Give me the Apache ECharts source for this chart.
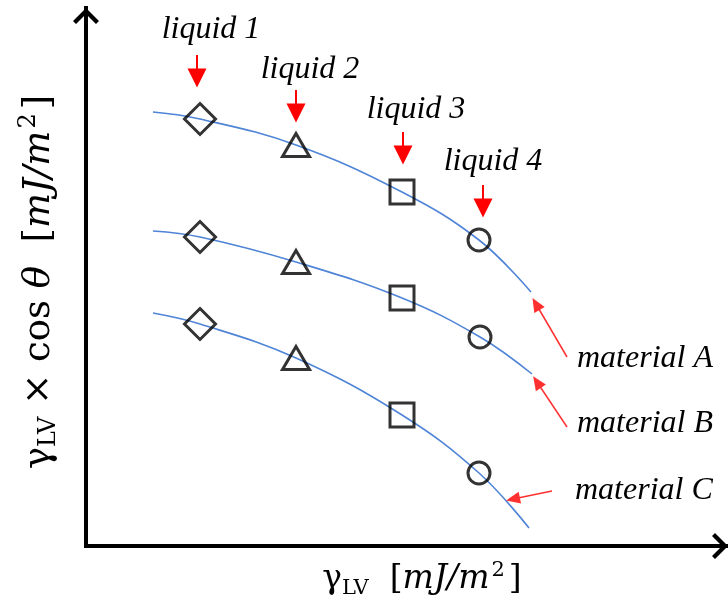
<!DOCTYPE html>
<html>
<head>
<meta charset="utf-8">
<script src="https://cdn.jsdelivr.net/npm/echarts@6/dist/echarts.min.js"></script>
<style>
  html, body { margin: 0; padding: 0; background: #fff; }
  #chart { width: 728px; height: 604px; }
</style>
</head>
<body>
<div id="chart"></div>
<script>
// schematic values (arbitrary units, origin at the axis corner)
// each curve: start, liquid 1..4, end
const curveA = [[67, 434], [114, 427], [210, 401], [316, 354], [393, 306], [445, 254]];
const curveB = [[67, 315], [114, 309], [210, 284], [316, 248], [394, 209], [446, 172]];
const curveC = [[67, 233], [114, 222], [210, 188], [316, 131], [393, 73], [443, 18]];
const materials = ['material A', 'material B', 'material C'];
const liquids = ['liquid 1', 'liquid 2', 'liquid 3', 'liquid 4'];
const liquidSymbols = ['diamond', 'triangle', 'rect', 'circle'];
const liquidSizes = [[31, 31], [27, 23], [24, 24], [22, 22]];

// red arrows: [from, to]
const liquidArrows = [
  [[111, 491], [111, 468]],
  [[210, 456], [210, 433]],
  [[317, 414], [317, 391]],
  [[397, 361], [397, 338]]
];
const materialArrows = [
  [[481, 189], [450, 242]],
  [[481, 119], [451, 164]],
  [[466, 55], [427, 47]]
];

const chart = echarts.init(document.getElementById('chart'));

const mathFont = "'DejaVu Serif', 'Liberation Serif', serif";
function makeRich(size) {
  const sub = Math.round(size * 0.64);
  const lh = Math.round(size * 1.18);
  return {
    g: { fontFamily: mathFont, fontSize: size, lineHeight: lh, color: '#000' },
    s: { fontFamily: mathFont, fontSize: sub, lineHeight: Math.round(size * 0.88), verticalAlign: 'bottom', color: '#000' },
    t: { fontFamily: mathFont, fontSize: size, lineHeight: lh, color: '#000' },
    i: { fontFamily: mathFont, fontSize: size, lineHeight: lh, fontStyle: 'italic', color: '#000' },
    p: { fontFamily: mathFont, fontSize: sub, lineHeight: Math.round(size * 0.88), verticalAlign: 'top', color: '#000', padding: [0, 4, 0, 2] }
  };
}

// open chevron for the axis ends (drawn pointing up)
const chevron = 'path://M0,13 L13,0 L26,13 L23,16 L13,6 L3,16 Z';

const axisLine = {
  show: true,
  symbol: ['none', chevron],
  symbolSize: [26, 16],
  symbolOffset: [0, -8],
  lineStyle: { color: '#000', width: 4, cap: 'square' }
};

const curves = [curveA, curveB, curveC];

const series = [];
curves.forEach((c, k) => {
  series.push({
    name: materials[k],
    type: 'line',
    data: c,
    smooth: 0.4,
    symbol: 'none',
    lineStyle: { color: '#4f84d6', width: 1.6 },
    silent: true,
    z: 2
  });
});

liquids.forEach((name, i) => {
  series.push({
    name: name,
    type: 'scatter',
    data: curves.map(c => c[i + 1]),
    symbol: liquidSymbols[i],
    symbolSize: liquidSizes[i],
    itemStyle: { color: 'rgba(0,0,0,0)', borderColor: '#000', borderWidth: 3 },
    silent: true,
    z: 5
  });
});

series.push({
  type: 'scatter',
  data: [],
  silent: true,
  markLine: {
    silent: true,
    animation: false,
    symbol: ['none', 'triangle'],
    symbolSize: [19, 19],
    label: { show: false },
    lineStyle: { color: '#ff0000', width: 2, type: 'solid' },
    data: liquidArrows.map(a => [{ coord: a[0] }, { coord: a[1] }])
  }
});

series.push({
  type: 'scatter',
  data: [],
  silent: true,
  markLine: {
    silent: true,
    animation: false,
    symbol: ['none', 'triangle'],
    symbolSize: [12, 14],
    label: { show: false },
    lineStyle: { color: '#ff3030', width: 1.5, type: 'solid' },
    data: materialArrows.map(a => [{ coord: a[0] }, { coord: a[1] }])
  }
});

const labelFont = "italic 32px 'Liberation Serif', 'DejaVu Serif', serif";
const liquidPos = [[211, 30], [310, 70], [416, 110], [493, 162]];
const materialPos = [[577, 359], [577, 424], [575, 491]];

const graphic = [];
liquids.forEach((t, i) => {
  graphic.push({
    type: 'text', x: liquidPos[i][0], y: liquidPos[i][1],
    style: { text: t, font: labelFont, fill: '#000', align: 'center', verticalAlign: 'middle' }
  });
});
materials.forEach((t, i) => {
  graphic.push({
    type: 'text', x: materialPos[i][0], y: materialPos[i][1],
    style: { text: t, font: labelFont, fill: '#000', align: 'left', verticalAlign: 'middle' }
  });
});

chart.setOption({
  animation: false,
  backgroundColor: '#fff',
  grid: { left: 86, top: 8, right: 0, bottom: 58, containLabel: false },
  xAxis: {
    type: 'value', min: 0, max: 642,
    name: '{g|γ}{s|LV}{t|  [}{i|mJ/m}{p|2}{t|]}',
    nameLocation: 'middle', nameGap: 14,
    nameTextStyle: { rich: makeRich(33), padding: [0, 0, 0, 30] },
    axisLine: axisLine,
    axisTick: { show: false }, axisLabel: { show: false }, splitLine: { show: false }
  },
  yAxis: {
    type: 'value', min: 0, max: 538,
    name: '{g|γ}{s|LV}{t| × cos }{i|θ}{t|  [}{i|mJ/m}{p|2}{t|]}',
    nameLocation: 'middle', nameGap: 25,
    nameTextStyle: { rich: makeRich(37), padding: [0, 10, 0, 0] },
    axisLine: axisLine,
    axisTick: { show: false }, axisLabel: { show: false }, splitLine: { show: false }
  },
  series: series,
  graphic: graphic
});
</script>
</body>
</html>
